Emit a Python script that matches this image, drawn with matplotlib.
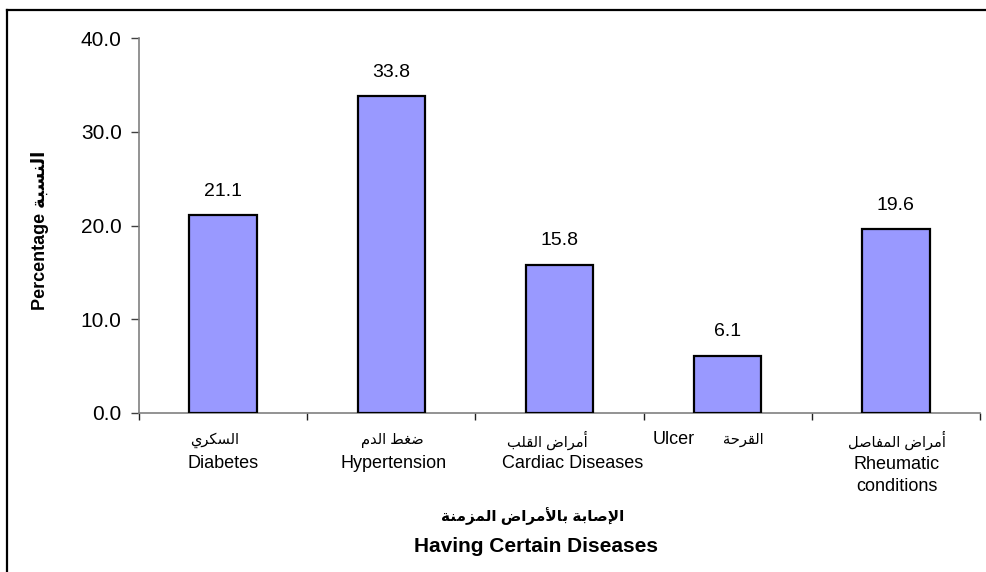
import matplotlib
matplotlib.use("Agg")
import matplotlib.pyplot as plt
from matplotlib.lines import Line2D

# ---------------- data ----------------
categories_en = ["Diabetes", "Hypertension", "Cardiac Diseases", "Ulcer", "Rheumatic\nconditions"]
categories_ar = ["السكري", "ضغط الدم", "أمراض القلب", "القرحة", "أمراض المفاصل"]
values = [21.1, 33.8, 15.8, 6.1, 19.6]
yticks = [0.0, 10.0, 20.0, 30.0, 40.0]
xlabel_ar = "الإصابة بالأمراض المزمنة"
xlabel_en = "Having Certain Diseases"
ylabel_en = "Percentage"
ylabel_ar = "النسبة"

# ------------- minimal Arabic shaping (presentation forms + visual order) -------------
FORMS = {  # isolated, final, initial, medial
    'ا': (0xFE8D, 0xFE8E, None, None), 'أ': (0xFE83, 0xFE84, None, None),
    'إ': (0xFE87, 0xFE88, None, None), 'آ': (0xFE81, 0xFE82, None, None),
    'ب': (0xFE8F, 0xFE90, 0xFE91, 0xFE92), 'ة': (0xFE93, 0xFE94, None, None),
    'ت': (0xFE95, 0xFE96, 0xFE97, 0xFE98), 'ح': (0xFEA1, 0xFEA2, 0xFEA3, 0xFEA4),
    'د': (0xFEA9, 0xFEAA, None, None), 'ر': (0xFEAD, 0xFEAE, None, None),
    'ز': (0xFEAF, 0xFEB0, None, None), 'س': (0xFEB1, 0xFEB2, 0xFEB3, 0xFEB4),
    'ص': (0xFEB9, 0xFEBA, 0xFEBB, 0xFEBC), 'ض': (0xFEBD, 0xFEBE, 0xFEBF, 0xFEC0),
    'ط': (0xFEC1, 0xFEC2, 0xFEC3, 0xFEC4), 'غ': (0xFECD, 0xFECE, 0xFECF, 0xFED0),
    'ف': (0xFED1, 0xFED2, 0xFED3, 0xFED4), 'ق': (0xFED5, 0xFED6, 0xFED7, 0xFED8),
    'ك': (0xFED9, 0xFEDA, 0xFEDB, 0xFEDC), 'ل': (0xFEDD, 0xFEDE, 0xFEDF, 0xFEE0),
    'م': (0xFEE1, 0xFEE2, 0xFEE3, 0xFEE4), 'ن': (0xFEE5, 0xFEE6, 0xFEE7, 0xFEE8),
    'ه': (0xFEE9, 0xFEEA, 0xFEEB, 0xFEEC), 'و': (0xFEED, 0xFEEE, None, None),
    'ي': (0xFEF1, 0xFEF2, 0xFEF3, 0xFEF4),
}
LAMALEF = {'آ': (0xFEF5, 0xFEF6), 'أ': (0xFEF7, 0xFEF8), 'إ': (0xFEF9, 0xFEFA), 'ا': (0xFEFB, 0xFEFC)}


def _dual(c):
    return c in FORMS and FORMS[c][2] is not None


def shape(s):
    out = []
    i = 0
    n = len(s)
    while i < n:
        c = s[i]
        if c not in FORMS:
            out.append(c)
            i += 1
            continue
        prev = s[i - 1] if i > 0 else ''
        joins_prev = _dual(prev)
        if c == 'ل' and i + 1 < n and s[i + 1] in LAMALEF:
            iso, fin = LAMALEF[s[i + 1]]
            out.append(chr(fin if joins_prev else iso))
            i += 2
            continue
        nxt = s[i + 1] if i + 1 < n else ''
        joins_next = _dual(c) and nxt in FORMS
        iso, fin, ini, med = FORMS[c]
        if joins_prev and joins_next:
            g = med
        elif joins_prev:
            g = fin
        elif joins_next:
            g = ini
        else:
            g = iso
        out.append(chr(g))
        i += 1
    return ''.join(reversed(out))


# ---------------- figure ----------------
FAM = ['Liberation Sans', 'DejaVu Sans']
plt.rcParams['font.family'] = FAM

W, H = 986, 572
PT = 0.72  # points per pixel at 100 dpi
fig = plt.figure(figsize=(W / 100, H / 100), dpi=100)
ax = fig.add_axes([139 / W, 1 - 413 / H, (980 - 139) / W, (413 - 38) / H])

x = list(range(len(values)))
ax.bar(x, values, width=0.40, color='#9999FF', edgecolor='black', linewidth=1.6, zorder=3)

ax.set_xlim(-0.5, len(values) - 0.5)
ax.set_ylim(0, 40)
ax.set_yticks(yticks)
ax.set_yticklabels([f"{t:.1f}" for t in yticks], fontsize=15)

for sp in ['top', 'right']:
    ax.spines[sp].set_visible(False)
for sp in ['left', 'bottom']:
    ax.spines[sp].set_color('#808080')
    ax.spines[sp].set_linewidth(1.2)

ax.tick_params(axis='y', direction='out', length=5.5, width=1, color='#404040', pad=7)
ax.set_xticks([i + 0.5 for i in range(-1, len(values))])
ax.set_xticklabels([])
ax.tick_params(axis='x', direction='out', length=5, width=1, color='#202020')

for xi, v in zip(x, values):
    ax.annotate(f"{v:.1f}", (xi, v), xytext=(0, 24 * PT), textcoords='offset points',
                ha='center', va='center', fontsize=14)

# category labels (pixel offsets from category centre)
ar_dx = [-8, 1, -12, 16, 1]
en_dx = [0, 2, 13, -54, 1]
en_dy = [-51, -51, -51, -27, -43]
for i in range(len(values)):
    ax.annotate(shape(categories_ar[i]), (i, 0), xytext=(ar_dx[i] * PT, -27 * PT),
                textcoords='offset points', ha='center', va='center', fontsize=10.5,
                annotation_clip=False)
    two = '\n' in categories_en[i]
    ax.annotate(categories_en[i], (i, 0), xytext=(en_dx[i] * PT, en_dy[i] * PT),
                textcoords='offset points', ha='center', va='top' if two else 'center',
                fontsize=13, linespacing=1.35, annotation_clip=False)

# axis titles
fig.text(533 / W, 1 - 516 / H, shape(xlabel_ar), ha='center', va='center', fontsize=11, fontweight='bold')
fig.text(536 / W, 1 - 547 / H, xlabel_en, ha='center', va='center', fontsize=15, fontweight='bold')
fig.text(40 / W, 1 - 230 / H, ylabel_en + " " + shape(ylabel_ar), rotation=90, ha='center', va='center',
         fontsize=13, fontweight='bold')

# outer frame
fig.add_artist(Line2D([7 / W, 7 / W], [0, 1 - 9.5 / H], color='black', lw=1.6, transform=fig.transFigure))
fig.add_artist(Line2D([7 / W, 1], [1 - 9.5 / H, 1 - 9.5 / H], color='black', lw=1.6, transform=fig.transFigure))

fig.savefig('out.png', dpi=100)
